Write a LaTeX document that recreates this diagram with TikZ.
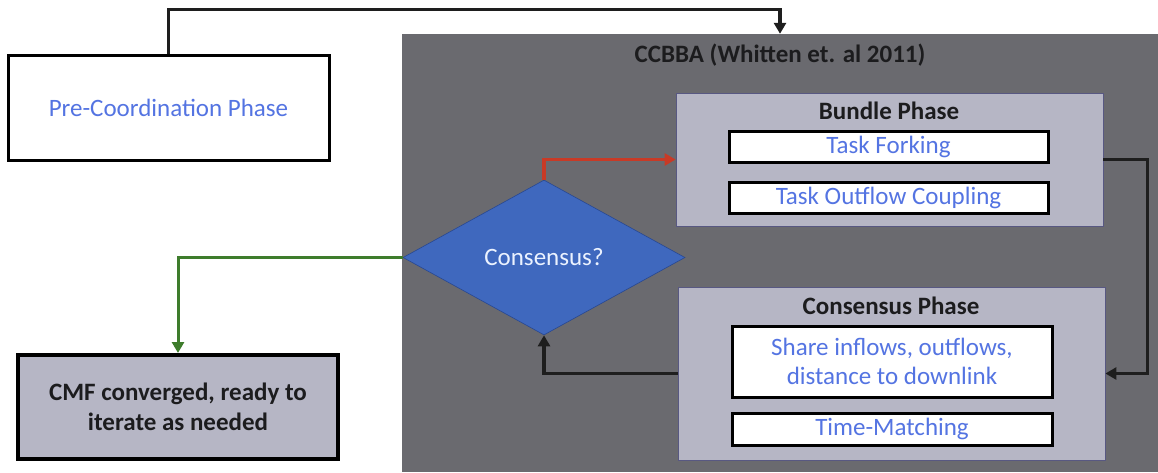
\documentclass[tikz,border=0pt]{standalone}
\usepackage{fontspec}
\setmainfont{Carlito}
\usetikzlibrary{arrows.meta,shapes.geometric}

\definecolor{panelgray}{RGB}{106,106,111}
\definecolor{phasefill}{RGB}{182,182,197}
\definecolor{phaseedge}{RGB}{88,88,130}
\definecolor{steptext}{RGB}{84,116,226}
\definecolor{decfill}{RGB}{63,104,190}
\definecolor{decedge}{RGB}{40,72,145}
\definecolor{darktext}{RGB}{28,28,30}
\definecolor{redflow}{RGB}{200,58,38}
\definecolor{greenflow}{RGB}{62,124,44}
\definecolor{lineblack}{RGB}{30,30,30}

\tikzset{
  txt/.style={font=\fontsize{25}{30}\selectfont},
  whitebox/.style={draw=black, line width=3pt, fill=white, inner sep=0pt,
    txt, text=steptext, align=center},
  phasebox/.style={draw=phaseedge, line width=0.8pt, fill=phasefill, inner sep=0pt},
  phasetitle/.style={font=\fontsize{25}{30}\selectfont\bfseries, text=darktext},
  flow/.style={line width=3.5pt, -{Triangle[length=11pt,width=12pt]}},
}

\begin{document}
\begin{tikzpicture}[x=1pt,y=-1pt]
  \useasboundingbox (0,0) rectangle (1158,472);

  % left column
  \node[whitebox, minimum width=321pt, minimum height=105pt] (pre) at (168.5,107.5)
    {Pre-Coordination Phase};
  \node[draw=black, line width=4pt, fill=phasefill, inner sep=0pt,
        minimum width=320pt, minimum height=104pt, align=center,
        font=\fontsize{25}{30}\selectfont\bfseries, text=darktext] (cmf) at (178,407)
    {CMF converged, ready to\\iterate as needed};

  % CCBBA panel
  \node[fill=panelgray, inner sep=0pt, minimum width=756pt, minimum height=438pt]
    (ccbba) at (780,253) {};
  \node[phasetitle] (title) at (780,55) {CCBBA (Whitten et. al 2011)};

  % bundle phase
  \node[phasebox, minimum width=427pt, minimum height=133pt] (bundle) at (889.5,159.5) {};
  \node[phasetitle] (bundlet) at (889,111) {Bundle Phase};
  \node[whitebox, minimum width=319pt, minimum height=31pt] (fork) at (888.5,146.5)
    {Task Forking};
  \node[whitebox, minimum width=319pt, minimum height=31pt] (outflow) at (888.5,197.5)
    {Task Outflow Coupling};

  % consensus phase
  \node[phasebox, minimum width=427pt, minimum height=173pt] (cons) at (891.5,373.5) {};
  \node[phasetitle] (const) at (891,306) {Consensus Phase};
  \node[whitebox, minimum width=320pt, minimum height=71pt,
        font=\fontsize{25}{29}\selectfont] (share) at (892,361.5)
    {Share inflows, outflows,\\distance to downlink};
  \node[whitebox, minimum width=320pt, minimum height=32pt] (timem) at (892,429)
    {Time-Matching};

  % decision
  \node[diamond, aspect=1.82, fill=decfill, draw=decedge, line width=0.6pt,
        inner sep=0pt, minimum width=282pt, minimum height=155pt,
        txt, text={rgb,255:red,235;green,242;blue,255}] (dec) at (544,257.5) {Consensus?};

  % connectors
  \draw[flow, lineblack] (pre.north) -- ++(0,-44) -| (ccbba.north);
  \draw[flow, redflow] (dec.north) |- (bundle.west);
  \draw[flow, lineblack] (bundle.east) -- ++(44,0) |- (cons.east);
  \draw[flow, lineblack] (cons.west) -| (dec.south);
  \draw[flow, greenflow, line width=3pt] (dec.west) -| (cmf.north);
\end{tikzpicture}
\end{document}
